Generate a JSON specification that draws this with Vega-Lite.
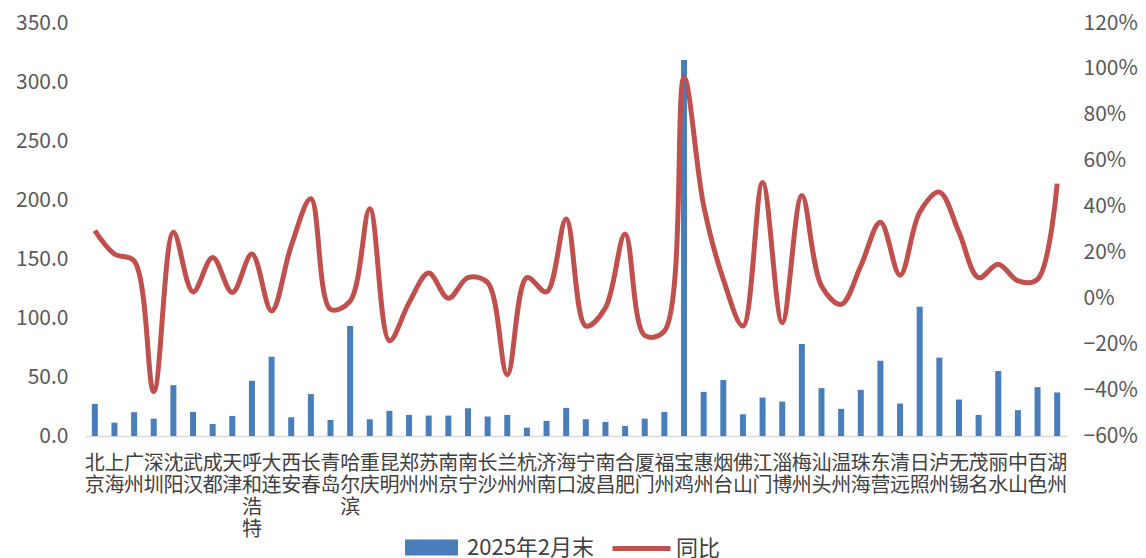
{
  "$schema": "https://vega.github.io/schema/vega-lite/v6.json",
  "autosize": "none",
  "width": 982,
  "height": 413,
  "padding": {"left": 85, "top": 23, "right": 79, "bottom": 122},
  "background": "white",
  "config": {
    "font": "Noto Sans CJK SC",
    "view": {"stroke": null},
    "axis": {"labelFont": "Noto Sans CJK SC", "labelColor": "#595959", "grid": false, "ticks": false}
  },
  "data": {
    "values": [
      {"city": "北京", "v": 27.2, "yoy": 0.295},
      {"city": "上海", "v": 11.3, "yoy": 0.193},
      {"city": "广州", "v": 20.2, "yoy": 0.163},
      {"city": "深圳", "v": 14.7, "yoy": -0.406},
      {"city": "沈阳", "v": 43.1, "yoy": 0.288},
      {"city": "武汉", "v": 20.4, "yoy": 0.028},
      {"city": "成都", "v": 10.2, "yoy": 0.178},
      {"city": "天津", "v": 17.0, "yoy": 0.025},
      {"city": "呼和浩特", "v": 46.8, "yoy": 0.193},
      {"city": "大连", "v": 67.2, "yoy": -0.055},
      {"city": "西安", "v": 15.9, "yoy": 0.229},
      {"city": "长春", "v": 35.5, "yoy": 0.434},
      {"city": "青岛", "v": 13.6, "yoy": -0.048},
      {"city": "哈尔滨", "v": 93.3, "yoy": -0.012},
      {"city": "重庆", "v": 14.2, "yoy": 0.39},
      {"city": "昆明", "v": 21.3, "yoy": -0.185},
      {"city": "郑州", "v": 17.9, "yoy": -0.019},
      {"city": "苏州", "v": 17.3, "yoy": 0.11},
      {"city": "南京", "v": 17.3, "yoy": 0.0},
      {"city": "南宁", "v": 23.5, "yoy": 0.09},
      {"city": "长沙", "v": 16.5, "yoy": 0.069},
      {"city": "兰州", "v": 17.9, "yoy": -0.333},
      {"city": "杭州", "v": 7.1, "yoy": 0.09},
      {"city": "济南", "v": 12.8, "yoy": 0.028},
      {"city": "海口", "v": 23.8, "yoy": 0.346},
      {"city": "宁波", "v": 14.2, "yoy": -0.121},
      {"city": "南昌", "v": 11.9, "yoy": -0.041},
      {"city": "合肥", "v": 8.5, "yoy": 0.28},
      {"city": "厦门", "v": 14.7, "yoy": -0.162},
      {"city": "福州", "v": 20.4, "yoy": -0.143},
      {"city": "宝鸡", "v": 318.6, "yoy": 0.962},
      {"city": "惠州", "v": 37.4, "yoy": 0.404},
      {"city": "烟台", "v": 47.4, "yoy": 0.083},
      {"city": "佛山", "v": 18.4, "yoy": -0.121},
      {"city": "江门", "v": 32.6, "yoy": 0.505},
      {"city": "淄博", "v": 29.2, "yoy": -0.106},
      {"city": "梅州", "v": 78.0, "yoy": 0.448},
      {"city": "汕头", "v": 40.6, "yoy": 0.054},
      {"city": "温州", "v": 23.0, "yoy": -0.026},
      {"city": "珠海", "v": 39.1, "yoy": 0.141},
      {"city": "东营", "v": 63.8, "yoy": 0.332},
      {"city": "清远", "v": 27.5, "yoy": 0.101},
      {"city": "日照", "v": 109.5, "yoy": 0.375},
      {"city": "泸州", "v": 66.4, "yoy": 0.463},
      {"city": "无锡", "v": 30.9, "yoy": 0.288},
      {"city": "茂名", "v": 17.9, "yoy": 0.09},
      {"city": "丽水", "v": 55.1, "yoy": 0.149},
      {"city": "中山", "v": 21.9, "yoy": 0.076},
      {"city": "百色", "v": 41.4, "yoy": 0.083},
      {"city": "湖州", "v": 36.9, "yoy": 0.5}
    ]
  },
  "encoding": {
    "x": {
      "field": "city", "type": "nominal", "sort": null, "title": null,
      "axis": {
        "labelAngle": 0, "labelFontSize": 20, "labelLineHeight": 22, "labelPadding": 17,
        "labelExpr": "split(datum.label, '')", "labelOverlap": false, "labelBound": false, "labelFlush": false,
        "labelBaseline": "top", "labelColor": "#404040",
        "domainColor": "#d9d9d9", "domainWidth": 1.5
      }
    }
  },
  "layer": [
    {
      "mark": {"type": "bar", "size": 6, "color": "#4a7ebb"},
      "encoding": {
        "y": {
          "field": "v", "type": "quantitative", "title": null,
          "scale": {"domain": [0, 350], "nice": false},
          "axis": {"values": [0, 50, 100, 150, 200, 250, 300, 350], "format": ".1f", "labelFontSize": 21, "labelPadding": 17, "domain": false}
        },
        "fill": {
          "datum": "2025年2月末", "type": "nominal",
          "scale": {"range": ["#4a7ebb"]},
          "legend": {
            "orient": "none", "legendX": 320, "legendY": 498, "title": null, "padding": 0,
            "symbolType": "M-1,-0.3H1V0.3H-1Z", "symbolSize": 2809, "symbolStrokeWidth": 0,
            "labelFontSize": 22, "labelColor": "#404040", "labelOffset": 9, "labelFont": "Noto Sans CJK SC"
          }
        }
      }
    },
    {
      "mark": {"type": "line", "interpolate": "catmull-rom", "strokeWidth": 5, "color": "#c0504d"},
      "encoding": {
        "y": {
          "field": "yoy", "type": "quantitative", "title": null,
          "scale": {"domain": [-0.6, 1.2], "nice": false},
          "axis": {"orient": "right", "values": [-0.6, -0.4, -0.2, 0, 0.2, 0.4, 0.6, 0.8, 1.0, 1.2], "format": ".0%", "labelFontSize": 21, "labelPadding": 16, "domain": false}
        },
        "stroke": {
          "datum": "同比", "type": "nominal",
          "scale": {"range": ["#c0504d"]},
          "legend": {
            "orient": "none", "legendX": 525, "legendY": 494, "title": null, "padding": 0,
            "symbolType": "stroke", "symbolSize": 3364, "symbolStrokeWidth": 5,
            "labelFontSize": 22, "labelColor": "#404040", "labelOffset": 3, "labelFont": "Noto Sans CJK SC"
          }
        }
      }
    }
  ],
  "resolve": {"scale": {"y": "independent", "fill": "independent", "stroke": "independent"}}
}
